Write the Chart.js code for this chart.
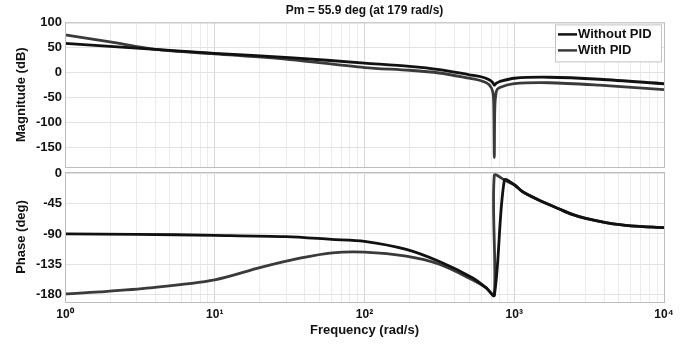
<!DOCTYPE html>
<html>
<head>
<meta charset="utf-8">
<script src="https://cdn.jsdelivr.net/npm/chart.js@4.4.1/dist/chart.umd.min.js"></script>
<style>
  html, body { margin: 0; padding: 0; background: #fff; }
  #wrap { position: relative; width: 694px; height: 346px; }
  canvas { position: absolute; left: 0; }
  #magChart { top: 0; }
  #phaseChart { top: 160px; }
</style>
</head>
<body>
<div id="wrap">
  <canvas id="magChart" width="694" height="170"></canvas>
  <canvas id="phaseChart" width="694" height="186"></canvas>
</div>
<script>
// values (rad/s, dB, deg)
const seriesNames = ['Without PID', 'With PID'];
const seriesColors = ['#111111', '#3a3a3a'];
const plotTitle = 'Pm = 55.9 deg (at 179 rad/s)';

const magFreqNoPid = [1, 2, 4, 10, 31.6, 100, 200, 316, 500, 600, 680, 720, 736, 760, 794, 1000, 1700, 3700, 10000];
const magNoPid = [58, 52, 46, 38, 29.5, 18.5, 12, 5.5, -5, -9, -15, -21, -26, -22, -19, -12, -10, -14, -23];

const magFreqPid = [1, 2, 4, 10, 31.6, 100, 200, 316, 500, 600, 680, 720, 730, 736, 742, 760, 794, 1000, 1700, 3700, 10000];
const magPid = [75, 61, 46, 37, 25.5, 9.5, 4, -1.5, -12, -17, -25, -40, -70, -171, -70, -38, -31, -23, -21, -26, -35];

const phFreqNoPid = [1, 3, 10, 30, 60, 100, 190, 316, 525, 650, 736, 860, 1000, 1131, 1468, 2000, 2437, 3000, 4084, 6000, 10000];
const phNoPid = [-90, -90.5, -92, -94, -98, -101, -113, -131, -155, -170, -181, -10, -17, -27, -40, -53, -61, -67, -73, -78, -80.5];

const phFreqPid = [1, 1.7, 3.7, 10, 20, 37, 61, 100, 190, 316, 525, 650, 736, 736, 860, 1000, 1131, 1468, 2000, 2437, 3000, 4084, 6000, 10000];
const phPid = [-179, -176, -170, -158, -140, -126, -118, -117, -123, -135, -158, -170, -181, -3, -10, -17, -27, -40, -53, -61, -67, -73, -78, -80.5];

const xMajorTicks = [1, 10, 100, 1000, 10000];
const xTickLabels = ['10\u2070', '10\u00b9', '10\u00b2', '10\u00b3', '10\u2074'];
const magTicks = [100, 50, 0, -50, -100, -150];
const phaseTicks = [0, -45, -90, -135, -180];

Chart.defaults.font.family = "'Liberation Sans', Arial, sans-serif";
Chart.defaults.color = '#111';

function toPoints(xs, ys) {
    return xs.map((x, i) => ({ x: x, y: ys[i] }));
}

// minor ticks 2..9 in every decade, labels only on the decades
function logTickList() {
    const list = [];
    xMajorTicks.forEach((m, i) => {
        list.push({ value: m, major: true });
        if (i < xMajorTicks.length - 1) {
            for (let k = 2; k <= 9; k++) list.push({ value: m * k });
        }
    });
    return list;
}

function xScale(showLabels, height) {
    return {
        type: 'logarithmic',
        min: 1,
        max: 10000,
        afterBuildTicks: scale => { scale.ticks = logTickList(); },
        afterFit: scale => { scale.height = height; },
        grid: {
            drawTicks: false,
            color: ctx => (ctx.tick && xMajorTicks.includes(ctx.tick.value)) ? '#d6d6d6' : '#ebebeb'
        },
        border: { color: '#b8b8b8' },
        ticks: {
            display: showLabels,
            autoSkip: false,
            maxRotation: 0,
            padding: 5,
            font: { size: 12, weight: 'bold' },
            callback: value => {
                const i = xMajorTicks.indexOf(value);
                return i >= 0 ? xTickLabels[i] : '';
            }
        },
        title: {
            display: showLabels,
            text: 'Frequency (rad/s)',
            font: { size: 13, weight: 'bold' },
            padding: { top: 0, bottom: 8 }
        }
    };
}

function yScale(min, max, tickList, label) {
    return {
        min: min,
        max: max,
        afterBuildTicks: scale => { scale.ticks = tickList.map(v => ({ value: v })); },
        afterFit: scale => {
            scale.width = 65;
            // keep the plot box edges where the figure has them
            scale.paddingTop = 0;
            scale.paddingBottom = 0;
        },
        grid: { drawTicks: false, color: '#e3e3e3' },
        border: { color: '#b8b8b8' },
        ticks: { padding: 3, font: { size: 13, weight: 'bold' } },
        title: {
            display: true,
            text: label,
            font: { size: 13, weight: 'bold' },
            padding: { top: 14, bottom: 0 }
        }
    };
}

const frameBox = {
    id: 'frameBox',
    afterDraw(chart) {
        const a = chart.chartArea;
        const ctx = chart.ctx;
        ctx.save();
        ctx.strokeStyle = '#bdbdbd';
        ctx.lineWidth = 1;
        ctx.strokeRect(a.left + 0.5, a.top + 0.5, a.right - a.left, a.bottom - a.top);
        ctx.restore();
    }
};

const boxedLegend = {
    id: 'boxedLegend',
    afterDraw(chart) {
        const ctx = chart.ctx;
        const a = chart.chartArea;
        const w = 106, h = 37;
        const x = a.right - w - 3, y = a.top + 2;
        ctx.save();
        ctx.fillStyle = '#fff';
        ctx.fillRect(x, y, w, h);
        ctx.strokeStyle = '#c4c4c4';
        ctx.lineWidth = 1;
        ctx.strokeRect(x + 0.5, y + 0.5, w, h);
        ctx.font = "bold 13px 'Liberation Sans', Arial, sans-serif";
        ctx.textBaseline = 'middle';
        chart.data.datasets.forEach((ds, i) => {
            const ly = y + 10 + i * 16;
            ctx.strokeStyle = ds.borderColor;
            ctx.lineWidth = 2.5;
            ctx.beginPath();
            ctx.moveTo(x + 3, ly);
            ctx.lineTo(x + 22, ly);
            ctx.stroke();
            ctx.fillStyle = '#111';
            ctx.fillText(ds.label, x + 23, ly);
        });
        ctx.restore();
    }
};

function makeDataset(i, xs, ys) {
    return {
        label: seriesNames[i],
        data: toPoints(xs, ys),
        borderColor: seriesColors[i],
        borderWidth: 2.8,
        pointRadius: 0,
        tension: 0.3,
        fill: false
    };
}

new Chart(document.getElementById('magChart'), {
    type: 'line',
    data: {
        datasets: [
            makeDataset(0, magFreqNoPid, magNoPid),
            makeDataset(1, magFreqPid, magPid)
        ]
    },
    options: {
        responsive: false,
        animation: false,
        layout: { padding: { left: 0, right: 30, top: 0, bottom: 0 } },
        plugins: {
            legend: { display: false },
            tooltip: { enabled: false },
            title: {
                display: true,
                text: plotTitle,
                fullSize: false,
                font: { size: 12, weight: 'bold' },
                color: '#111',
                padding: { top: 3, bottom: 5 }
            }
        },
        scales: {
            x: xScale(false, 3),
            y: yScale(-190, 100, magTicks, 'Magnitude (dB)')
        }
    },
    plugins: [frameBox, boxedLegend]
});

new Chart(document.getElementById('phaseChart'), {
    type: 'line',
    data: {
        datasets: [
            makeDataset(0, phFreqNoPid, phNoPid),
            makeDataset(1, phFreqPid, phPid)
        ]
    },
    options: {
        responsive: false,
        animation: false,
        layout: { padding: { left: 0, right: 30, top: 12, bottom: 0 } },
        plugins: {
            legend: { display: false },
            tooltip: { enabled: false }
        },
        scales: {
            x: xScale(true, 44),
            y: yScale(-191, 2, phaseTicks, 'Phase (deg)')
        }
    },
    plugins: [frameBox]
});
</script>
</body>
</html>
